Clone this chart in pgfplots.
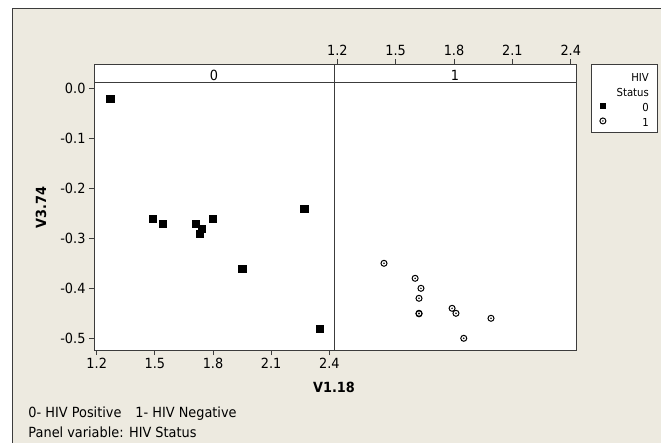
\documentclass[border=0pt]{standalone}
\usepackage{pgfplots}
\pgfplotsset{compat=1.18}
\usepackage{fontspec}
\setmainfont{DejaVu Sans}[FakeStretch=0.92]
\definecolor{bg}{RGB}{237,234,224}
\definecolor{frm}{RGB}{60,60,60}
\newcommand\tfont{\fontsize{14bp}{16bp}\selectfont}
\newcommand\lfont{\fontsize{11bp}{13bp}\selectfont}
\newcommand\ffont{\fontsize{14bp}{17bp}\selectfont}
\newcommand\pad{\rule{6bp}{0pt}}
\pgfdeclareplotmark{cdot}{%
  \pgfpathcircle{\pgfpointorigin}{\pgfplotmarksize}\pgfusepathqstroke
  \pgfpathcircle{\pgfpointorigin}{0.28\pgfplotmarksize}\pgfusepathqfill}
\pgfplotsset{
  panel/.style={
    scale only axis, height=285.5bp,
    ymin=-0.5234, ymax=0.0476,
    axis background/.style={fill=white},
    tick align=outside, major tick length=5bp,
    axis line style={frm, line width=1bp},
    tick style={frm, line width=0.8bp},
    tick label style={font=\tfont},
    xtick={1.2,1.5,1.8,2.1,2.4},
    xticklabels={1.2,1.5,1.8,2.1,2.4},
  },
  mkleg/.style={legend image code/.code={%
    \path (0bp,-3bp) (17bp,3bp);
    \draw[##1] plot coordinates {(8.5bp,0bp)};}},
}
\begin{document}
\begin{tikzpicture}
\begin{scope}[x=1bp,y=-1bp]
  \fill[white] (0,0) rectangle (661,443);
  \fill[bg] (12,8) rectangle (661,443);
  \draw[frm, line width=1bp] (12,443) -- (12,8) -- (661,8);
\end{scope}

\begin{axis}[panel, at={(94bp,-350bp)}, anchor=south west, width=240bp,
  xmin=1.186, xmax=2.424,
  xtick pos=left, ytick pos=left,
  ytick={-0.5,-0.4,-0.3,-0.2,-0.1,0},
  yticklabels={-0.5,-0.4,-0.3,-0.2,-0.1,0.0},
]
\addplot[only marks, mark=square*, mark size=3.6bp, black] coordinates {
(1.27,-0.02) (1.49,-0.26) (1.54,-0.27) (1.71,-0.27) (1.74,-0.28)
(1.73,-0.29) (1.80,-0.26) (1.95,-0.36) (2.27,-0.24) (2.35,-0.48)
};
\end{axis}

\begin{axis}[panel, at={(334bp,-350bp)}, anchor=south west, width=242bp,
  xmin=1.183, xmax=2.427,
  xtick pos=right, xticklabel pos=right, ytick=\empty,
  legend style={at={(axis description cs:1.062,1.0007)}, anchor=north west,
    draw=frm, line width=0.8bp, fill=white, font=\lfont,
    inner xsep=2.5bp, inner ysep=5bp, row sep=2.5bp, column sep=4.7bp,
    nodes={inner sep=0bp, text height=11.5bp, text depth=1bp}},
  legend cell align=right,
]
\addlegendimage{empty legend}
\addlegendimage{empty legend}
\addlegendimage{only marks, mark=square*, mark size=2.8bp, black, mkleg}
\addplot[only marks, mark=cdot, mark size=3bp, black, line width=1bp, mkleg] coordinates {
(1.44,-0.35) (1.60,-0.38) (1.63,-0.40) (1.62,-0.42) (1.62,-0.45)
(1.62,-0.451) (1.79,-0.44) (1.81,-0.45) (1.99,-0.46) (1.85,-0.50)
};
\legend{HIV\pad,Status\pad,0\pad,1\pad}
\end{axis}

\begin{scope}[x=1bp,y=-1bp]
  \draw[frm, line width=1bp, fill=white] (94,64.3) rectangle (576,82.7);
  \draw[frm, line width=1bp] (334,64.3) -- (334,82.7);
  \node[font=\tfont, anchor=base] at (214,80) {0};
  \node[font=\tfont, anchor=base] at (455,80) {1};
  \node[font=\tfont\bfseries, anchor=base] at (334,392) {V1.18};
  \node[font=\tfont\bfseries, anchor=base, rotate=90] at (46,207.5) {V3.74};
  \node[font=\ffont, anchor=base west, inner sep=0pt] at (28.3,417.5) {0- HIV Positive\hspace{14bp}1- HIV Negative};
  \node[font=\ffont, anchor=base west, inner sep=0pt] at (28.3,437.7) {Panel variable: HIV Status};
\end{scope}
\pgfresetboundingbox
\path[use as bounding box] (0,0) rectangle (661bp,-443bp);
\end{tikzpicture}
\end{document}
